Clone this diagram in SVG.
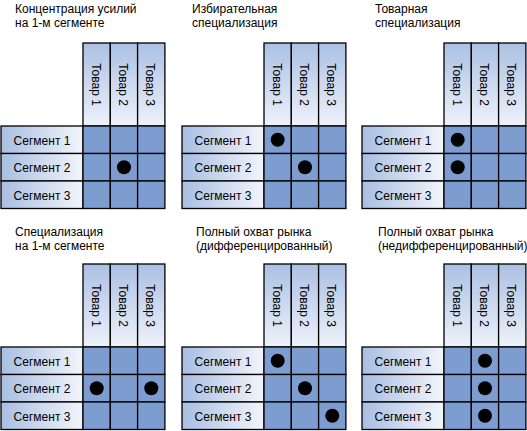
<svg xmlns="http://www.w3.org/2000/svg" width="527" height="431" viewBox="0 0 527 431">
<defs>
<linearGradient id="gh" x1="0" y1="0" x2="0" y2="1"><stop offset="0" stop-color="#abc0e4"/><stop offset="1" stop-color="#eef2fa"/></linearGradient>
<linearGradient id="gr" x1="0" y1="0" x2="1" y2="0"><stop offset="0" stop-color="#a8bee2"/><stop offset="1" stop-color="#f2f5fb"/></linearGradient>
<style>
.t{font-family:"Liberation Sans",Arial,sans-serif;font-size:12px;fill:#000}
.h{fill:url(#gh);stroke:#000;stroke-width:1.3}
.r{fill:url(#gr);stroke:#000;stroke-width:1.3}
.c{fill:#7d9dd1;stroke:#000;stroke-width:1.3}
.d{fill:#000}
.m{text-anchor:middle}
</style>
</defs>
<rect width="527" height="431" fill="#fff"/>

<g id="panel1" transform="translate(1,43)">
<rect class="h" x="82" y="0" width="27.3" height="83"/><rect class="h" x="109.3" y="0" width="27.3" height="83"/><rect class="h" x="136.6" y="0" width="27.3" height="83"/>
<text class="t m" transform="translate(90.7,41.5) rotate(90)">Товар 1</text><text class="t m" transform="translate(118,41.5) rotate(90)">Товар 2</text><text class="t m" transform="translate(145.3,41.5) rotate(90)">Товар 3</text>
<rect class="r" x="0" y="83" width="82" height="27.5"/><rect class="r" x="0" y="110.5" width="82" height="27.5"/><rect class="r" x="0" y="138" width="82" height="27.5"/>
<text class="t m" x="41" y="101.5">Сегмент 1</text><text class="t m" x="41" y="129">Сегмент 2</text><text class="t m" x="41" y="156.5">Сегмент 3</text>
<rect class="c" x="82" y="83" width="27.3" height="27.5"/><rect class="c" x="109.3" y="83" width="27.3" height="27.5"/><rect class="c" x="136.6" y="83" width="27.3" height="27.5"/>
<rect class="c" x="82" y="110.5" width="27.3" height="27.5"/><rect class="c" x="109.3" y="110.5" width="27.3" height="27.5"/><rect class="c" x="136.6" y="110.5" width="27.3" height="27.5"/>
<rect class="c" x="82" y="138" width="27.3" height="27.5"/><rect class="c" x="109.3" y="138" width="27.3" height="27.5"/><rect class="c" x="136.6" y="138" width="27.3" height="27.5"/>
<circle class="d" cx="123" cy="124.2" r="7"/>
</g>
<text class="t" x="15" y="13">Концентрация усилий</text><text class="t" x="15" y="27">на 1-м сегменте</text>

<g id="panel2" transform="translate(182,43)">
<rect class="h" x="82" y="0" width="27.3" height="83"/><rect class="h" x="109.3" y="0" width="27.3" height="83"/><rect class="h" x="136.6" y="0" width="27.3" height="83"/>
<text class="t m" transform="translate(90.7,41.5) rotate(90)">Товар 1</text><text class="t m" transform="translate(118,41.5) rotate(90)">Товар 2</text><text class="t m" transform="translate(145.3,41.5) rotate(90)">Товар 3</text>
<rect class="r" x="0" y="83" width="82" height="27.5"/><rect class="r" x="0" y="110.5" width="82" height="27.5"/><rect class="r" x="0" y="138" width="82" height="27.5"/>
<text class="t m" x="41" y="101.5">Сегмент 1</text><text class="t m" x="41" y="129">Сегмент 2</text><text class="t m" x="41" y="156.5">Сегмент 3</text>
<rect class="c" x="82" y="83" width="27.3" height="27.5"/><rect class="c" x="109.3" y="83" width="27.3" height="27.5"/><rect class="c" x="136.6" y="83" width="27.3" height="27.5"/>
<rect class="c" x="82" y="110.5" width="27.3" height="27.5"/><rect class="c" x="109.3" y="110.5" width="27.3" height="27.5"/><rect class="c" x="136.6" y="110.5" width="27.3" height="27.5"/>
<rect class="c" x="82" y="138" width="27.3" height="27.5"/><rect class="c" x="109.3" y="138" width="27.3" height="27.5"/><rect class="c" x="136.6" y="138" width="27.3" height="27.5"/>
<circle class="d" cx="95.7" cy="96.7" r="7"/><circle class="d" cx="123" cy="124.2" r="7"/>
</g>
<text class="t" x="192" y="13">Избирательная</text><text class="t" x="192" y="27">специализация</text>

<g id="panel3" transform="translate(362,43)">
<rect class="h" x="82" y="0" width="27.3" height="83"/><rect class="h" x="109.3" y="0" width="27.3" height="83"/><rect class="h" x="136.6" y="0" width="27.3" height="83"/>
<text class="t m" transform="translate(90.7,41.5) rotate(90)">Товар 1</text><text class="t m" transform="translate(118,41.5) rotate(90)">Товар 2</text><text class="t m" transform="translate(145.3,41.5) rotate(90)">Товар 3</text>
<rect class="r" x="0" y="83" width="82" height="27.5"/><rect class="r" x="0" y="110.5" width="82" height="27.5"/><rect class="r" x="0" y="138" width="82" height="27.5"/>
<text class="t m" x="41" y="101.5">Сегмент 1</text><text class="t m" x="41" y="129">Сегмент 2</text><text class="t m" x="41" y="156.5">Сегмент 3</text>
<rect class="c" x="82" y="83" width="27.3" height="27.5"/><rect class="c" x="109.3" y="83" width="27.3" height="27.5"/><rect class="c" x="136.6" y="83" width="27.3" height="27.5"/>
<rect class="c" x="82" y="110.5" width="27.3" height="27.5"/><rect class="c" x="109.3" y="110.5" width="27.3" height="27.5"/><rect class="c" x="136.6" y="110.5" width="27.3" height="27.5"/>
<rect class="c" x="82" y="138" width="27.3" height="27.5"/><rect class="c" x="109.3" y="138" width="27.3" height="27.5"/><rect class="c" x="136.6" y="138" width="27.3" height="27.5"/>
<circle class="d" cx="95.7" cy="96.7" r="7"/><circle class="d" cx="95.7" cy="124.2" r="7"/>
</g>
<text class="t" x="375" y="13">Товарная</text><text class="t" x="375" y="27">специализация</text>

<g id="panel4" transform="translate(1,264)">
<rect class="h" x="82" y="0" width="27.3" height="83"/><rect class="h" x="109.3" y="0" width="27.3" height="83"/><rect class="h" x="136.6" y="0" width="27.3" height="83"/>
<text class="t m" transform="translate(90.7,41.5) rotate(90)">Товар 1</text><text class="t m" transform="translate(118,41.5) rotate(90)">Товар 2</text><text class="t m" transform="translate(145.3,41.5) rotate(90)">Товар 3</text>
<rect class="r" x="0" y="83" width="82" height="27.5"/><rect class="r" x="0" y="110.5" width="82" height="27.5"/><rect class="r" x="0" y="138" width="82" height="27.5"/>
<text class="t m" x="41" y="101.5">Сегмент 1</text><text class="t m" x="41" y="129">Сегмент 2</text><text class="t m" x="41" y="156.5">Сегмент 3</text>
<rect class="c" x="82" y="83" width="27.3" height="27.5"/><rect class="c" x="109.3" y="83" width="27.3" height="27.5"/><rect class="c" x="136.6" y="83" width="27.3" height="27.5"/>
<rect class="c" x="82" y="110.5" width="27.3" height="27.5"/><rect class="c" x="109.3" y="110.5" width="27.3" height="27.5"/><rect class="c" x="136.6" y="110.5" width="27.3" height="27.5"/>
<rect class="c" x="82" y="138" width="27.3" height="27.5"/><rect class="c" x="109.3" y="138" width="27.3" height="27.5"/><rect class="c" x="136.6" y="138" width="27.3" height="27.5"/>
<circle class="d" cx="95.7" cy="124.2" r="7"/><circle class="d" cx="150.3" cy="124.2" r="7"/>
</g>
<text class="t" x="15" y="236">Специализация</text><text class="t" x="15" y="250">на 1-м сегменте</text>

<g id="panel5" transform="translate(182,264)">
<rect class="h" x="82" y="0" width="27.3" height="83"/><rect class="h" x="109.3" y="0" width="27.3" height="83"/><rect class="h" x="136.6" y="0" width="27.3" height="83"/>
<text class="t m" transform="translate(90.7,41.5) rotate(90)">Товар 1</text><text class="t m" transform="translate(118,41.5) rotate(90)">Товар 2</text><text class="t m" transform="translate(145.3,41.5) rotate(90)">Товар 3</text>
<rect class="r" x="0" y="83" width="82" height="27.5"/><rect class="r" x="0" y="110.5" width="82" height="27.5"/><rect class="r" x="0" y="138" width="82" height="27.5"/>
<text class="t m" x="41" y="101.5">Сегмент 1</text><text class="t m" x="41" y="129">Сегмент 2</text><text class="t m" x="41" y="156.5">Сегмент 3</text>
<rect class="c" x="82" y="83" width="27.3" height="27.5"/><rect class="c" x="109.3" y="83" width="27.3" height="27.5"/><rect class="c" x="136.6" y="83" width="27.3" height="27.5"/>
<rect class="c" x="82" y="110.5" width="27.3" height="27.5"/><rect class="c" x="109.3" y="110.5" width="27.3" height="27.5"/><rect class="c" x="136.6" y="110.5" width="27.3" height="27.5"/>
<rect class="c" x="82" y="138" width="27.3" height="27.5"/><rect class="c" x="109.3" y="138" width="27.3" height="27.5"/><rect class="c" x="136.6" y="138" width="27.3" height="27.5"/>
<circle class="d" cx="95.7" cy="96.7" r="7"/><circle class="d" cx="123" cy="124.2" r="7"/><circle class="d" cx="150.3" cy="151.7" r="7"/>
</g>
<text class="t" x="196" y="236">Полный охват рынка</text><text class="t" x="196" y="250">(дифференцированный)</text>

<g id="panel6" transform="translate(362,264)">
<rect class="h" x="82" y="0" width="27.3" height="83"/><rect class="h" x="109.3" y="0" width="27.3" height="83"/><rect class="h" x="136.6" y="0" width="27.3" height="83"/>
<text class="t m" transform="translate(90.7,41.5) rotate(90)">Товар 1</text><text class="t m" transform="translate(118,41.5) rotate(90)">Товар 2</text><text class="t m" transform="translate(145.3,41.5) rotate(90)">Товар 3</text>
<rect class="r" x="0" y="83" width="82" height="27.5"/><rect class="r" x="0" y="110.5" width="82" height="27.5"/><rect class="r" x="0" y="138" width="82" height="27.5"/>
<text class="t m" x="41" y="101.5">Сегмент 1</text><text class="t m" x="41" y="129">Сегмент 2</text><text class="t m" x="41" y="156.5">Сегмент 3</text>
<rect class="c" x="82" y="83" width="27.3" height="27.5"/><rect class="c" x="109.3" y="83" width="27.3" height="27.5"/><rect class="c" x="136.6" y="83" width="27.3" height="27.5"/>
<rect class="c" x="82" y="110.5" width="27.3" height="27.5"/><rect class="c" x="109.3" y="110.5" width="27.3" height="27.5"/><rect class="c" x="136.6" y="110.5" width="27.3" height="27.5"/>
<rect class="c" x="82" y="138" width="27.3" height="27.5"/><rect class="c" x="109.3" y="138" width="27.3" height="27.5"/><rect class="c" x="136.6" y="138" width="27.3" height="27.5"/>
<circle class="d" cx="123" cy="96.7" r="7"/><circle class="d" cx="123" cy="124.2" r="7"/><circle class="d" cx="123" cy="151.7" r="7"/>
</g>
<text class="t" x="378" y="236">Полный охват рынка</text><text class="t" x="378" y="250">(недифференцированный)</text>
</svg>
